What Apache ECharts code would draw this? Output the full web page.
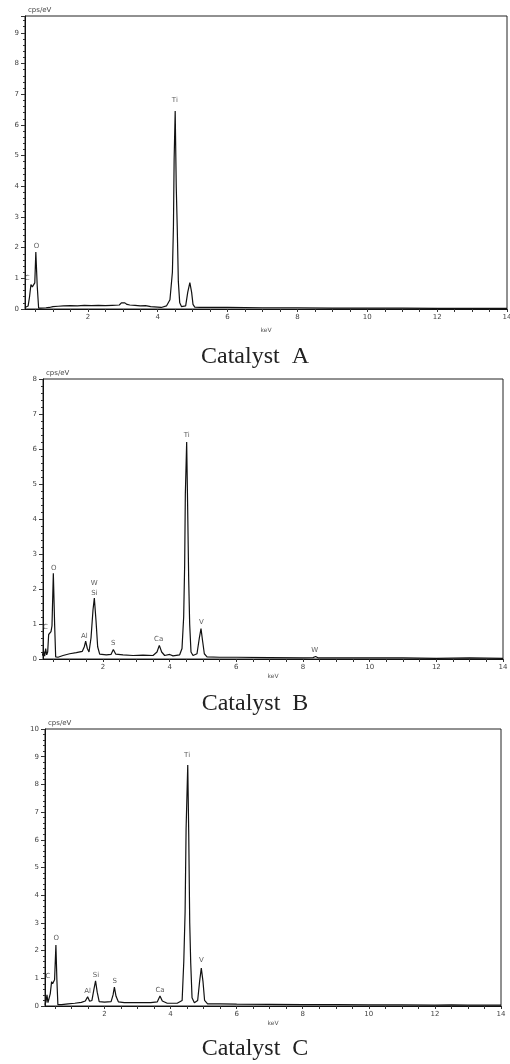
<!DOCTYPE html>
<html>
<head>
<meta charset="utf-8">
<script src="https://cdn.jsdelivr.net/npm/echarts@6/dist/echarts.min.js"></script>
<style>
html, body { margin: 0; padding: 0; background: #fff; }
#chart { width: 510px; height: 1064px; }
</style>
</head>
<body>
<div id="chart"></div>
<script>
// EDS spectra, energy in keV, intensity in cps/eV
var keVA = [0.2,0.25,0.29,0.33,0.37,0.41,0.44,0.48,0.51,0.55,0.59,0.65,0.8,0.9,1.0,1.15,1.3,1.5,1.7,1.9,2.1,2.3,2.5,2.7,2.9,2.96,3.0,3.06,3.12,3.2,3.35,3.5,3.65,3.8,4.0,4.1,4.25,4.35,4.42,4.45,4.47,4.5,4.53,4.56,4.59,4.63,4.68,4.8,4.86,4.92,4.97,5.01,5.06,5.2,5.6,6,7,8,9,10,11,12,13,14];
var cpsA = [0.05,0.06,0.1,0.4,0.8,0.72,0.73,0.85,1.86,0.75,0.03,0.03,0.04,0.05,0.08,0.09,0.1,0.11,0.1,0.12,0.11,0.12,0.11,0.12,0.13,0.2,0.25,0.2,0.15,0.13,0.12,0.1,0.11,0.08,0.06,0.05,0.1,0.3,1.2,2.7,4.9,6.45,4.0,2.6,0.9,0.2,0.08,0.1,0.55,0.86,0.55,0.15,0.06,0.05,0.05,0.05,0.04,0.04,0.03,0.03,0.03,0.02,0.02,0.02];

var keVB = [0.18,0.22,0.25,0.28,0.31,0.34,0.37,0.41,0.44,0.47,0.51,0.55,0.58,0.65,0.8,1.0,1.2,1.38,1.44,1.48,1.53,1.58,1.64,1.7,1.74,1.79,1.84,1.9,2.1,2.24,2.31,2.38,2.6,2.9,3.2,3.5,3.62,3.69,3.76,3.85,4.0,4.1,4.3,4.37,4.42,4.45,4.47,4.51,4.54,4.57,4.6,4.64,4.7,4.82,4.89,4.94,4.99,5.04,5.12,5.5,6,7,8,8.3,8.38,8.46,9,10,11,12,13,14];
var cpsB = [0.1,0.22,0.08,0.3,0.12,0.2,0.7,0.68,0.78,0.95,2.45,0.95,0.06,0.05,0.1,0.15,0.18,0.22,0.35,0.51,0.3,0.2,0.6,1.4,1.74,1.1,0.35,0.14,0.12,0.13,0.27,0.14,0.12,0.1,0.11,0.1,0.2,0.39,0.2,0.1,0.13,0.09,0.12,0.3,1.2,2.7,4.7,6.2,4.3,2.3,1.0,0.2,0.1,0.15,0.6,0.87,0.5,0.15,0.06,0.05,0.05,0.04,0.03,0.04,0.07,0.03,0.03,0.03,0.03,0.02,0.03,0.02];

var keVC = [0.2,0.23,0.26,0.29,0.33,0.36,0.4,0.43,0.46,0.49,0.53,0.56,0.59,0.7,0.9,1.1,1.3,1.42,1.49,1.55,1.62,1.68,1.73,1.78,1.84,2.0,2.2,2.26,2.3,2.35,2.42,2.6,3.0,3.4,3.6,3.68,3.75,3.9,4.2,4.35,4.4,4.44,4.47,4.52,4.55,4.58,4.61,4.65,4.72,4.82,4.88,4.93,4.98,5.03,5.12,5.5,6,7,8,9,10,11,12,12.5,13,14];
var cpsC = [0.05,0.15,0.4,0.12,0.1,0.45,0.88,0.8,0.85,0.95,2.2,0.94,0.05,0.05,0.08,0.1,0.13,0.18,0.33,0.17,0.2,0.6,0.91,0.5,0.16,0.14,0.16,0.4,0.68,0.35,0.15,0.12,0.12,0.12,0.15,0.36,0.18,0.1,0.1,0.2,1.6,3.4,6.4,8.7,6.2,3.0,1.55,0.3,0.12,0.2,0.9,1.37,0.9,0.2,0.08,0.08,0.07,0.06,0.05,0.05,0.04,0.04,0.03,0.04,0.03,0.03];

// peak labels: [text, keV, cps/eV]
var peaksA = [['C',0.26,1.0],['O',0.53,2.05],['Ti',4.49,6.8]];
var peaksB = [['C',0.27,0.9],['O',0.52,2.6],['Al',1.44,0.65],['W',1.74,2.17],['Si',1.74,1.89],['S',2.31,0.44],['Ca',3.67,0.56],['Ti',4.51,6.4],['V',4.95,1.05],['W',8.35,0.24]];
var peaksC = [['C',0.29,1.06],['O',0.54,2.44],['Al',1.49,0.52],['Si',1.74,1.12],['S',2.31,0.88],['Ca',3.68,0.58],['Ti',4.5,9.06],['V',4.93,1.64]];

var titles = ['Catalyst  A', 'Catalyst  B', 'Catalyst  C'];
var yMax = [9.55, 8, 10];
var xLabels = [2,4,6,8,10,12,14];
var xTicks = [];
for (var t = 0.5; t <= 14; t += 0.5) xTicks.push(t);

function pairs(xs, ys) {
    var out = [];
    for (var i = 0; i < xs.length; i++) out.push([xs[i], ys[i]]);
    return out;
}

var grids = [
    {left: 25, top: 16, width: 482, height: 293},
    {left: 43, top: 379, width: 460, height: 280},
    {left: 45, top: 729, width: 456, height: 277}
];
var titleTops = [340, 687, 1032];
var nameGaps = [18, 14, 14];
var spectra = [pairs(keVA, cpsA), pairs(keVB, cpsB), pairs(keVC, cpsC)];
var peaks = [peaksA, peaksB, peaksC];

var option = {
    animation: false,
    backgroundColor: '#fff',
    title: [],
    grid: [],
    xAxis: [],
    yAxis: [],
    series: []
};

for (var k = 0; k < 3; k++) {
    var g = grids[k];
    option.grid.push({
        left: g.left, top: g.top, width: g.width, height: g.height,
        outerBoundsMode: 'none', containLabel: false,
        show: true, borderColor: '#222', borderWidth: 1
    });
    option.title.push({
        text: titles[k],
        left: 'center',
        top: titleTops[k],
        textStyle: {fontFamily: 'Liberation Serif', fontSize: 24, fontWeight: 'normal', color: '#222'}
    });
    option.xAxis.push({
        type: 'value', gridIndex: k, min: 0.2, max: 14,
        name: 'keV', nameLocation: 'middle', nameGap: nameGaps[k],
        nameTextStyle: {fontSize: 6, color: '#555', fontFamily: 'DejaVu Sans'},
        axisLine: {lineStyle: {color: '#111', width: 1}},
        axisTick: {show: true, customValues: xTicks, length: 3, lineStyle: {color: '#333'}},
        axisLabel: {customValues: xLabels, fontSize: 7, color: '#444', margin: 5, fontFamily: 'DejaVu Sans'},
        splitLine: {show: false}
    });
    option.yAxis.push({
        type: 'value', gridIndex: k, min: 0, max: yMax[k], interval: 1,
        name: 'cps/eV', nameLocation: 'end', nameGap: 2,
        nameTextStyle: {fontSize: 7, color: '#444', align: 'left', verticalAlign: 'bottom', padding: [0, 0, 0, 3], fontFamily: 'DejaVu Sans'},
        axisLine: {show: true, lineStyle: {color: '#111', width: 1}},
        axisTick: {show: true, length: 4, lineStyle: {color: '#333'}},
        minorTick: {show: true, splitNumber: 5, length: 2, lineStyle: {color: '#333'}},
        axisLabel: {
            fontSize: 7, color: '#444', margin: 6, fontFamily: 'DejaVu Sans',
            formatter: function (v) { return Math.abs(v - Math.round(v)) < 1e-6 ? String(Math.round(v)) : ''; }
        },
        splitLine: {show: false}
    });
    option.series.push({
        type: 'line', xAxisIndex: k, yAxisIndex: k,
        data: spectra[k], showSymbol: false, symbol: 'none',
        lineStyle: {color: '#111', width: 1.2}
    });
    option.series.push({
        type: 'scatter', xAxisIndex: k, yAxisIndex: k,
        symbolSize: 0,
        data: peaks[k].map(function (p) { return {name: p[0], value: [p[1], p[2]]}; }),
        label: {
            show: true, position: 'inside', formatter: '{b}',
            fontSize: 7, color: '#333', fontFamily: 'DejaVu Sans'
        }
    });
}

var chart = echarts.init(document.getElementById('chart'));
chart.setOption(option);
</script>
</body>
</html>
